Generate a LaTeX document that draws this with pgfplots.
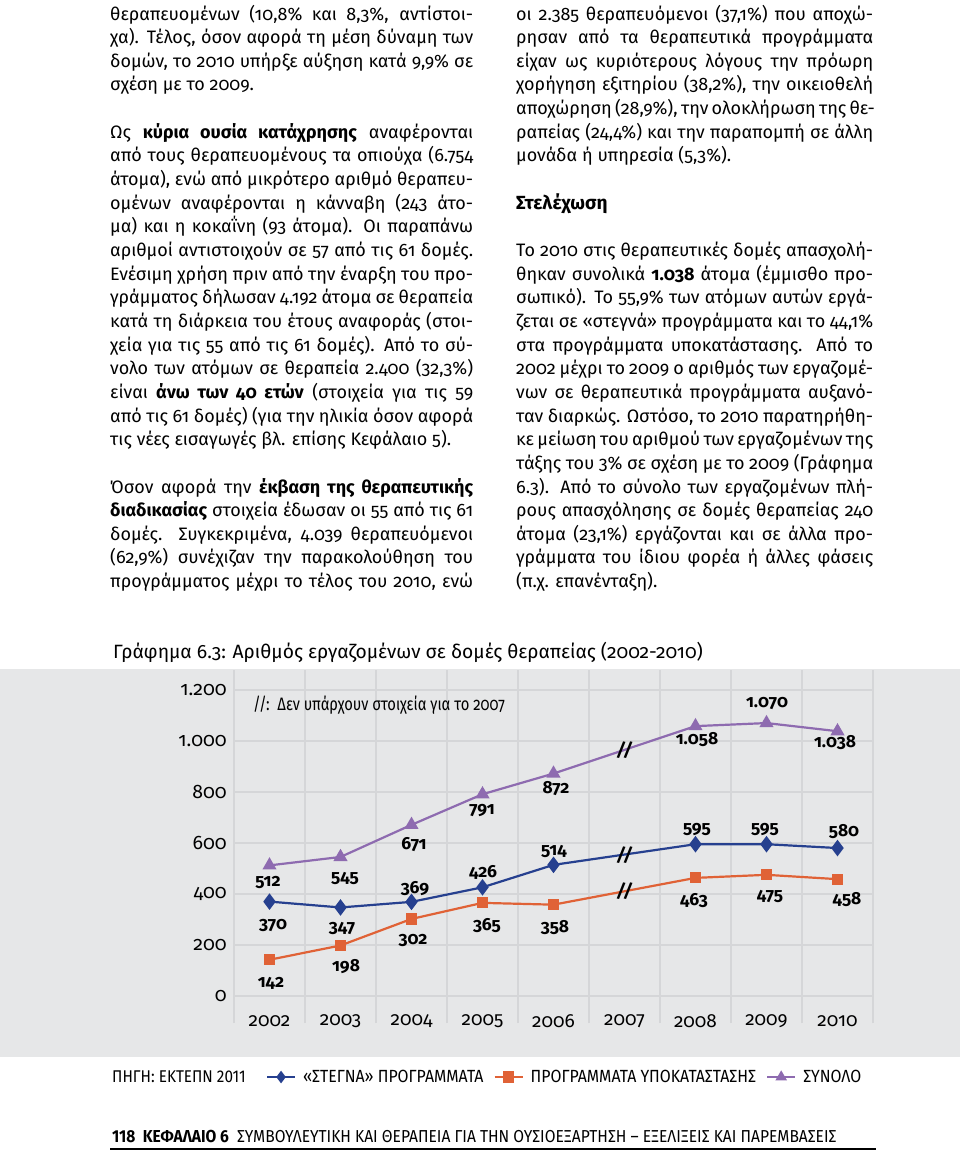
\documentclass[border=0pt]{standalone}
\usepackage{fontspec}
\setmainfont[Numbers=OldStyle]{Fira Sans}
\newfontfamily\cond[Numbers=Lining,FakeStretch=0.9]{Fira Sans}
\newfontfamily\condo[Numbers=OldStyle,FakeStretch=0.82]{Fira Sans}
\usepackage{pgfplots}
\pgfplotsset{compat=1.18}
\definecolor{bgc}{HTML}{E6E7E8}
\definecolor{gridc}{HTML}{D5D6D8}
\definecolor{bluec}{HTML}{26408F}
\definecolor{orangec}{HTML}{E06236}
\definecolor{purplec}{HTML}{8E6BB0}
\newcommand\J[1]{\hbox to\hsize{#1}}
\newcommand\E[1]{\hbox{#1}}
\newcommand\B{\hbox{}}
\newcommand\colsetup{\hsize=363pt\fontsize{18}{23.65}\selectfont\lineskiplimit=-100pt\parindent=0pt}
\begin{document}
\begin{tikzpicture}
\path[use as bounding box] (0pt,0pt) rectangle (960pt,-1151pt);
\fill[white] (0pt,0pt) rectangle (960pt,-1151pt);
% ---------- left column ----------
\node[anchor=base west, inner sep=0pt] at (110pt,-20pt) {\vtop{\colsetup
\J{θεραπευομένων (10,8\% και 8,3\%, αντίστοι-}
\J{χα). Τέλος, όσον αφορά τη μέση δύναμη των}
\J{δομών, το 2010 υπήρξε αύξηση κατά 9,9\% σε}
\E{σχέση με το 2009.}
\B
\J{Ως \textbf{κύρια ουσία κατάχρησης} αναφέρονται}
\J{από τους θεραπευομένους τα οπιούχα (6.754}
\J{άτομα), ενώ από μικρότερο αριθμό θεραπευ-}
\J{ομένων αναφέρονται η κάνναβη (243 άτο-}
\J{μα) και η κοκαΐνη (93 άτομα). Οι παραπάνω}
\J{αριθμοί αντιστοιχούν σε 57 από τις 61 δομές.}
\J{Ενέσιμη χρήση πριν από την έναρξη του προ-}
\J{γράμματος δήλωσαν 4.192 άτομα σε θεραπεία}
\J{κατά τη διάρκεια του έτους αναφοράς (στοι-}
\J{χεία για τις 55 από τις 61 δομές). Από το σύ-}
\J{νολο των ατόμων σε θεραπεία 2.400 (32,3\%)}
\J{είναι \textbf{άνω των 40 ετών} (στοιχεία για τις 59}
\J{από τις 61 δομές) (για την ηλικία όσον αφορά}
\E{τις νέες εισαγωγές βλ. επίσης Κεφάλαιο 5).}
\B
\J{Όσον αφορά την \textbf{έκβαση της θεραπευτικής}}
\J{\textbf{διαδικασίας} στοιχεία έδωσαν οι 55 από τις 61}
\J{δομές. Συγκεκριμένα, 4.039 θεραπευόμενοι}
\J{(62,9\%) συνέχιζαν την παρακολούθηση του}
\J{προγράμματος μέχρι το τέλος του 2010, ενώ}
}};
% ---------- right column ----------
\node[anchor=base west, inner sep=0pt] at (516pt,-20pt) {\vtop{\colsetup\hsize=357pt
\J{οι 2.385 θεραπευόμενοι (37,1\%) που αποχώ-}
\J{ρησαν από τα θεραπευτικά προγράμματα}
\J{είχαν ως κυριότερους λόγους την πρόωρη}
\J{χορήγηση εξιτηρίου (38,2\%), την οικειοθελή}
\J{αποχώρηση (28,9\%), την ολοκλήρωση της θε-}
\J{ραπείας (24,4\%) και την παραπομπή σε άλλη}
\E{μονάδα ή υπηρεσία (5,3\%).}
\B
\E{\fontsize{19}{23.65}\selectfont\bfseries Στελέχωση}
\B
\J{Το 2010 στις θεραπευτικές δομές απασχολή-}
\J{θηκαν συνολικά \textbf{1.038} άτομα (έμμισθο προ-}
\J{σωπικό). Το 55,9\% των ατόμων αυτών εργά-}
\J{ζεται σε «στεγνά» προγράμματα και το 44,1\%}
\J{στα προγράμματα υποκατάστασης. Από το}
\J{2002 μέχρι το 2009 ο αριθμός των εργαζομέ-}
\J{νων σε θεραπευτικά προγράμματα αυξανό-}
\J{ταν διαρκώς. Ωστόσο, το 2010 παρατηρήθη-}
\J{κε μείωση του αριθμού των εργαζομένων της}
\J{τάξης του 3\% σε σχέση με το 2009 (Γράφημα}
\J{6.3). Από το σύνολο των εργαζομένων πλή-}
\J{ρους απασχόλησης σε δομές θεραπείας 240}
\J{άτομα (23,1\%) εργάζονται και σε άλλα προ-}
\J{γράμματα του ίδιου φορέα ή άλλες φάσεις}
\E{(π.χ. επανένταξη).}
}};
% ---------- chart title ----------
\node[anchor=base west, inner sep=0pt] at (113pt,-658pt) {\fontsize{19.25}{22}\selectfont Γράφημα 6.3: Αριθμός εργαζομένων σε δομές θεραπείας (2002-2010)};
% ---------- chart panel ----------
\fill[bgc] (0pt,-669pt) rectangle (960pt,-1057pt);
\begin{axis}[
  at={(234pt,-1023pt)}, anchor=south west,
  scale only axis, width=639pt, height=353pt,
  xmin=2001.5, xmax=2010.5, ymin=-106, ymax=1278,
  xtick={2002,2003,2004,2005,2006,2007,2008,2009,2010},
  xticklabels={2002,2003,2004,2005,2006,2007,2008,2009,2010},
  ytick={0,200,400,600,800,1000,1200},
  yticklabels={0,200,400,600,800,1.000,1.200},
  minor xtick={2001.5,2002.5,2003.5,2004.5,2005.5,2006.5,2007.5,2008.5,2009.5,2010.5},
  xminorgrids=true, xmajorgrids=false, ymajorgrids=true,
  major grid style={gridc, line width=2pt},
  minor grid style={gridc, line width=2pt},
  major tick length=0pt, minor tick length=0pt,
  tick style={draw=none},
  axis line style={draw=none},
  xticklabel style={font=\fontsize{19}{20}\selectfont, anchor=center, inner sep=0pt, yshift=2pt},
  yticklabel style={font=\fontsize{19.5}{20}\selectfont, anchor=east, inner sep=0pt, xshift=-7pt},
  clip=false,
  legend style={at={(rel axis cs:0.05,-0.153)}, anchor=west, draw=none, fill=none,
    inner sep=0pt, outer sep=0pt, legend columns=3,
    font=\cond\fontsize{17.6}{20}\selectfont,
    /tikz/every even column/.append style={column sep=8pt},
    /tikz/every odd column/.append style={column sep=5pt}},
  legend cell align=left,
  legend image code/.code={\draw[mark repeat=2, mark phase=2, #1, mark size=4.5pt] plot coordinates {(0pt,0pt) (14pt,0pt) (28pt,0pt)};},
]
\addplot[color=bluec, line width=2.2pt, mark=diamond*, mark size=6.5pt]
  coordinates {(2002,370) (2003,347) (2004,369) (2005,426) (2006,514) (2008,595) (2009,595) (2010,580)};
\addlegendentry{«ΣΤΕΓΝΑ» ΠΡΟΓΡΑΜΜΑΤΑ}
\addplot[color=orangec, line width=2.2pt, mark=square*, mark size=4.5pt]
  coordinates {(2002,142) (2003,198) (2004,302) (2005,365) (2006,358) (2008,463) (2009,475) (2010,458)};
\addlegendentry{ΠΡΟΓΡΑΜΜΑΤΑ ΥΠΟΚΑΤΑΣΤΑΣΗΣ}
\addplot[color=purplec, line width=2.2pt, mark=triangle*, mark size=6pt]
  coordinates {(2002,512) (2003,545) (2004,671) (2005,791) (2006,872) (2008,1058) (2009,1070) (2010,1038)};
\addlegendentry{ΣΥΝΟΛΟ}
\node[font=\fontsize{18}{18}\selectfont\bfseries\itshape] at (axis cs:2007,965) {//};
\node[font=\fontsize{18}{18}\selectfont\bfseries\itshape] at (axis cs:2007,554) {//};
\node[font=\fontsize{18}{18}\selectfont\bfseries\itshape] at (axis cs:2007,410) {//};
\end{axis}
% ---------- annotation ----------
\node[anchor=base west, inner sep=0pt] at (253pt,-710pt) {\condo\fontsize{18}{18}\selectfont //:\ \ Δεν υπάρχουν στοιχεία για το 2007};
% ---------- data labels ----------
\begin{scope}[every node/.style={font=\fontsize{17.5}{18}\selectfont\bfseries, inner sep=0pt, anchor=center}]
\node at (268pt,-882pt) {512};
\node at (345pt,-878pt) {545};
\node at (414pt,-845pt) {671};
\node at (482pt,-810pt) {791};
\node at (556pt,-789pt) {872};
\node at (697pt,-740pt) {1.058};
\node at (767pt,-703pt) {1.070};
\node at (835pt,-743pt) {1.038};
\node at (273pt,-925pt) {370};
\node at (342pt,-928pt) {347};
\node at (415pt,-889pt) {369};
\node at (483pt,-872pt) {426};
\node at (554pt,-851pt) {514};
\node at (697pt,-829pt) {595};
\node at (765pt,-829pt) {595};
\node at (844pt,-832pt) {580};
\node at (271pt,-983pt) {142};
\node at (346pt,-967pt) {198};
\node at (413pt,-940pt) {302};
\node at (487pt,-926pt) {365};
\node at (555pt,-928pt) {358};
\node at (694pt,-901pt) {463};
\node at (770pt,-896pt) {475};
\node at (847pt,-900pt) {458};
\end{scope}
% ---------- source and footer ----------
\node[anchor=west, inner sep=0pt] at (112pt,-1077pt) {\cond\fontsize{17}{20}\selectfont ΠΗΓΗ: ΕΚΤΕΠΝ 2011};
\node[anchor=base west, inner sep=0pt] at (112pt,-1142pt) {\cond\fontsize{17.3}{18}\selectfont \textbf{118\ \ ΚΕΦΑΛΑΙΟ 6}\ \ ΣΥΜΒΟΥΛΕΥΤΙΚΗ ΚΑΙ ΘΕΡΑΠΕΙΑ ΓΙΑ ΤΗΝ ΟΥΣΙΟΕΞΑΡΤΗΣΗ – ΕΞΕΛΙΞΕΙΣ ΚΑΙ ΠΑΡΕΜΒΑΣΕΙΣ};
\draw[line width=2pt] (110pt,-1149pt) -- (876pt,-1149pt);
\end{tikzpicture}
\end{document}
